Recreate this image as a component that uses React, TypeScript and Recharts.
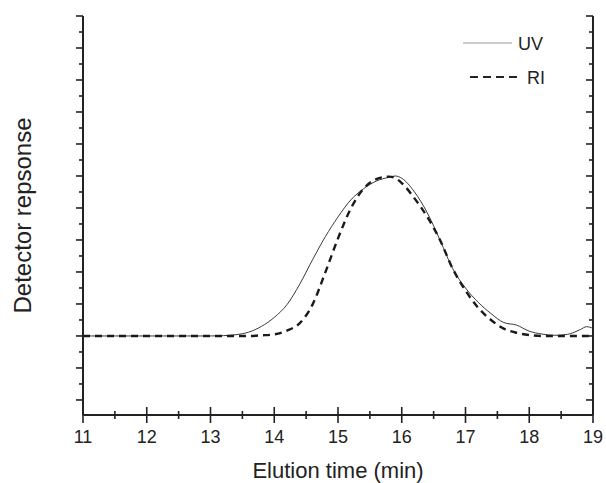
import React from "react";
import { LineChart, Line, XAxis, YAxis, Legend, Label } from "recharts";

// elution time (min) and detector response
const times = [
  11, 12, 13, 13.2, 13.4, 13.6, 13.8, 14, 14.2, 14.4, 14.6, 14.8, 15, 15.2,
  15.4, 15.6, 15.8, 15.9, 16, 16.2, 16.4, 16.6, 16.8, 17, 17.2, 17.4, 17.6,
  17.8, 18, 18.2, 18.4, 18.6, 18.8, 18.9, 19,
];
const uvValues = [
  0, 0, 0, 0.01, 0.04, 0.12, 0.3, 0.58, 0.98, 1.62, 2.38, 3.1, 3.72, 4.25,
  4.6, 4.84, 4.96, 5.0, 4.93, 4.5, 3.85, 3.0, 2.1, 1.5, 1.05, 0.7, 0.42, 0.34,
  0.15, 0.06, 0.02, 0.05, 0.2, 0.29, 0.24,
];
const riValues = [
  0, 0, 0, 0, 0, 0, 0.02, 0.05, 0.17, 0.4, 0.98, 1.98, 3.05, 3.98, 4.6, 4.9,
  4.98, 4.93, 4.78, 4.3, 3.72, 3.0, 2.1, 1.42, 0.88, 0.5, 0.23, 0.1, 0.03, 0,
  0, 0, 0, 0, 0,
];
const xTicks = [
  11, 11.5, 12, 12.5, 13, 13.5, 14, 14.5, 15, 15.5, 16, 16.5, 17, 17.5, 18,
  18.5, 19,
];
const yTicks = [
  -2, -1.5, -1, -0.5, 0, 0.5, 1, 1.5, 2, 2.5, 3, 3.5, 4, 4.5, 5, 5.5, 6, 6.5,
  7, 7.5, 8, 8.5, 9, 9.5, 10,
];

const data = times.map((t, i) => ({ t, uv: uvValues[i], ri: riValues[i] }));

const FONT = '"Liberation Sans", Arial, sans-serif';
const INK = "#222";

const XTick = (props: any) => {
  const { x, y, payload } = props;
  const major = Number.isInteger(payload.value);
  const len = major ? 8 : 4;
  return (
    <g>
      <line x1={x} x2={x} y1={y - len} y2={y + len} stroke={INK} strokeWidth={1.6} />
      {major && (
        <text x={x} y={y + 28} textAnchor="middle" fontSize={18} fontFamily={FONT} fill={INK}>
          {payload.value}
        </text>
      )}
    </g>
  );
};

const LeftTick = (props: any) => {
  const { x, y, payload } = props;
  const len = Number.isInteger(payload.value) ? 7 : 4;
  return <line x1={x - len} x2={x} y1={y} y2={y} stroke={INK} strokeWidth={1.6} />;
};

const RightTick = (props: any) => {
  const { x, y, payload } = props;
  const len = Number.isInteger(payload.value) ? 7 : 4;
  return <line x1={x} x2={x - len} y1={y} y2={y} stroke={INK} strokeWidth={1.6} />;
};

const renderLegend = () => (
  <svg width={100} height={64} style={{ display: "block" }}>
    <line x1={3} x2={52} y1={13} y2={13} stroke="#999" strokeWidth={1.2} />
    <text x={58} y={19.5} fontSize={18} fontFamily={FONT} fill={INK}>
      UV
    </text>
    <line x1={10} x2={58} y1={47} y2={47} stroke={INK} strokeWidth={2} strokeDasharray="8 5" />
    <text x={67} y={53.5} fontSize={18} fontFamily={FONT} fill={INK}>
      RI
    </text>
  </svg>
);

const YTitle = (props: any) => {
  const { viewBox } = props;
  const cx = viewBox.x + 22;
  const cy = viewBox.y + viewBox.height / 2;
  return (
    <text
      x={cx}
      y={cy}
      transform={`rotate(-90 ${cx} ${cy})`}
      textAnchor="middle"
      dominantBaseline="central"
      fontSize={24}
      fontFamily={FONT}
      fill={INK}
    >
      Detector repsonse
    </text>
  );
};

export default function App() {
  return (
    <div style={{ position: "absolute", left: 0, top: 0 }}>
      <LineChart
        width={606}
        height={483}
        data={data}
        margin={{ top: 16, right: 0, bottom: 0, left: 0 }}
      >
        <XAxis
          dataKey="t"
          type="number"
          domain={[11, 19]}
          ticks={xTicks}
          interval={0}
          height={68}
          tickSize={0}
          tickMargin={0}
          tickLine={false}
          tick={(p: any) => <XTick {...p} />}
          axisLine={{ stroke: INK, strokeWidth: 2 }}
        >
          <Label
            value="Elution time (min)"
            position="insideBottom"
            offset={5}
            style={{ fontSize: 22, fontFamily: FONT, fill: INK }}
          />
        </XAxis>
        <YAxis
          yAxisId="left"
          type="number"
          domain={[-2.47, 10]}
          allowDataOverflow
          ticks={yTicks}
          interval={0}
          width={83}
          tickSize={0}
          tickMargin={0}
          tickLine={false}
          tick={(p: any) => <LeftTick {...p} />}
          axisLine={{ stroke: INK, strokeWidth: 2 }}
        >
          <Label content={(p: any) => <YTitle {...p} />} />
        </YAxis>
        <YAxis
          yAxisId="right"
          orientation="right"
          type="number"
          domain={[-2.47, 10]}
          allowDataOverflow
          ticks={yTicks}
          interval={0}
          width={13}
          tickSize={0}
          tickMargin={0}
          tickLine={false}
          tick={(p: any) => <RightTick {...p} />}
          axisLine={{ stroke: INK, strokeWidth: 2 }}
        />
        <Legend
          layout="vertical"
          align="center"
          verticalAlign="middle"
          content={renderLegend}
          wrapperStyle={{ left: 460, top: 30, width: 100 }}
        />
        <Line
          yAxisId="left"
          type="monotone"
          dataKey="uv"
          stroke="#3a3a3a"
          strokeWidth={1}
          dot={false}
          isAnimationActive={false}
        />
        <Line
          yAxisId="left"
          type="monotone"
          dataKey="ri"
          stroke="#1a1a1a"
          strokeWidth={2.4}
          strokeDasharray="7 5"
          dot={false}
          isAnimationActive={false}
        />
      </LineChart>
    </div>
  );
}
